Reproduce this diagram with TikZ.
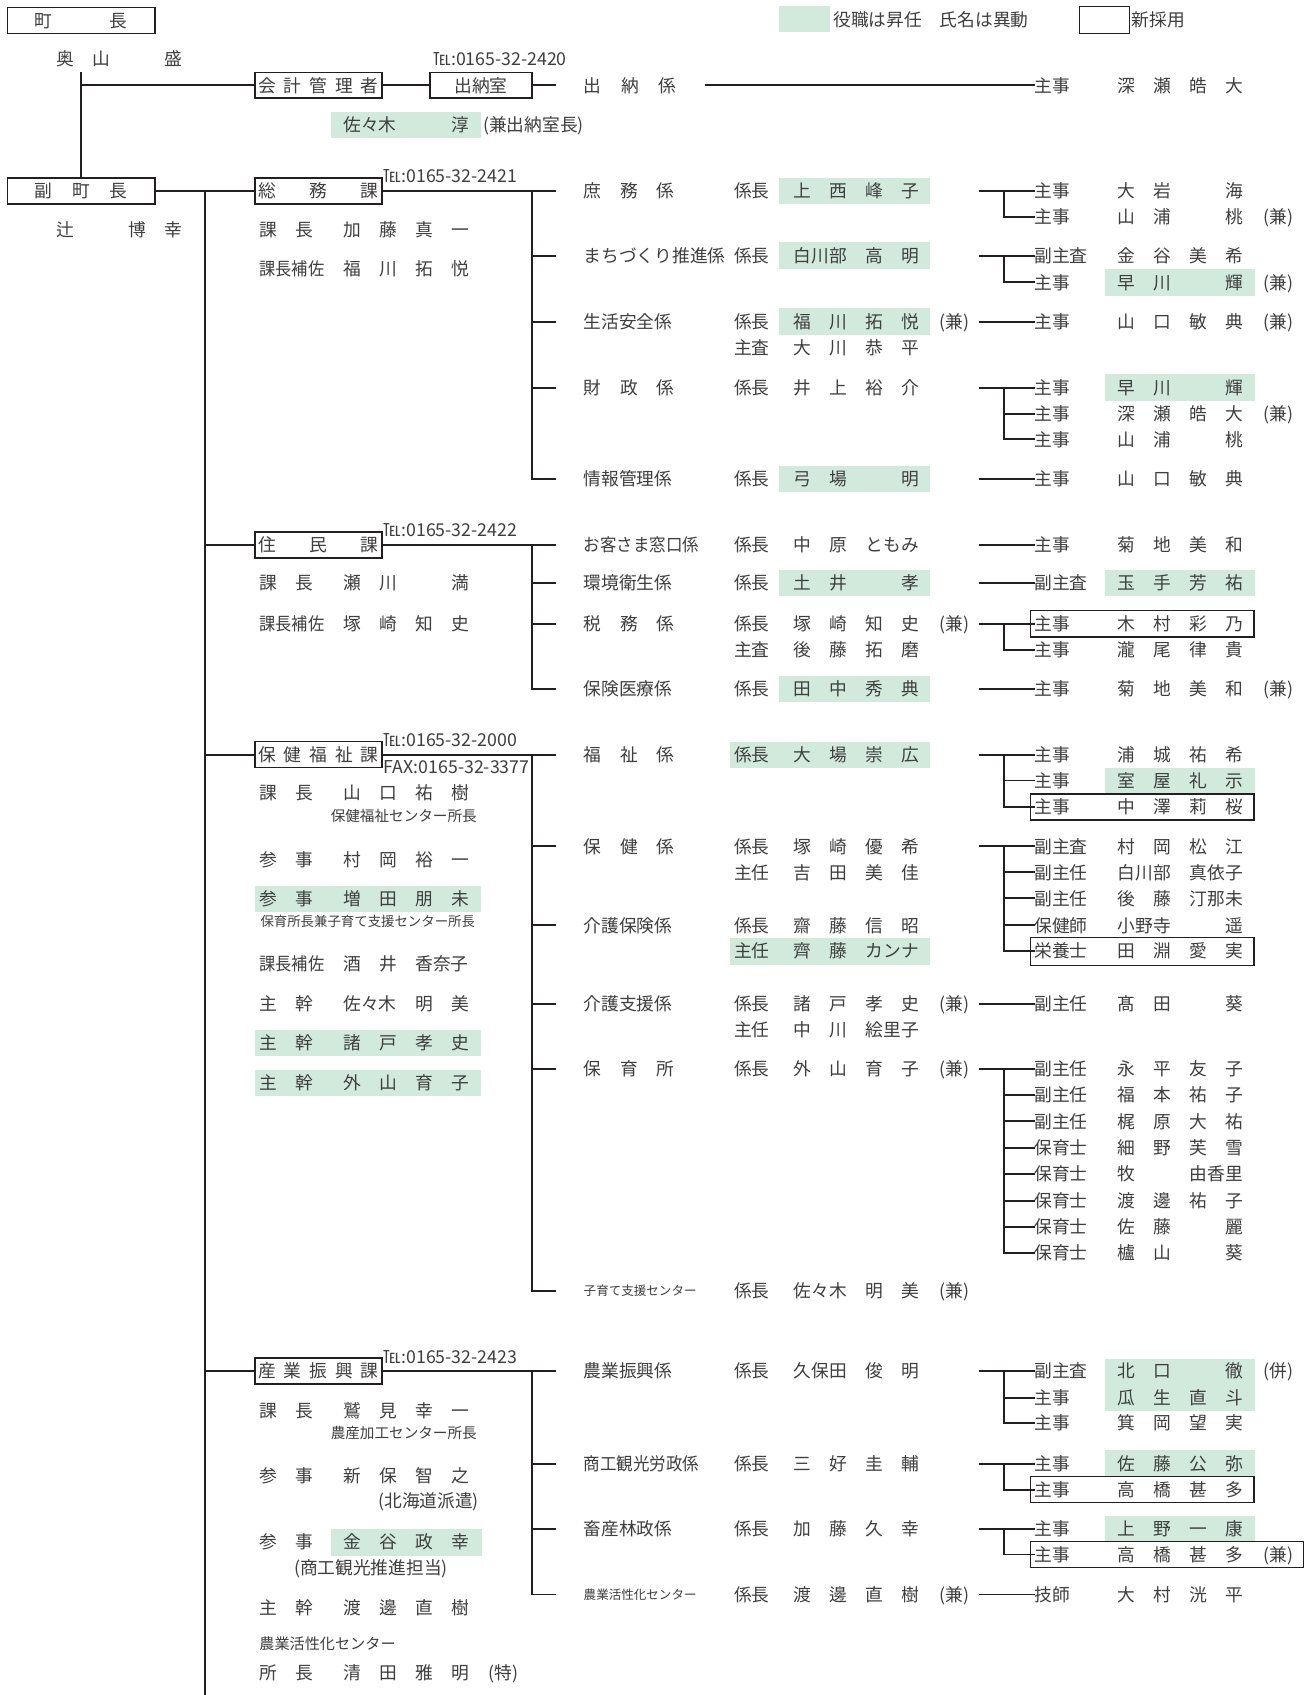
\documentclass[tikz,border=0pt]{standalone}
\usepackage{fontspec}
\setmainfont{Noto Sans CJK JP}
\usepackage{graphicx}
\definecolor{gr}{RGB}{210,234,220}
\definecolor{ln}{RGB}{35,31,32}
\definecolor{tx}{RGB}{62,62,62}
\newcommand\fN{\fontsize{16.4}{19}\selectfont}
\newcommand\slA[1]{\makebox[33.3pt]{#1}}
\newcommand\slB[1]{\makebox[66.6pt]{#1}}
\newcommand\slE{\makebox[33.3pt]{}}
\newcommand\nd[4][]{\node[txt,#1] (#2) at (#3) {#4};}
\newcommand\gb[4]{\fill[gr] (#1,#2) rectangle (#3,#4);}
\newcommand\nb[4]{\draw[nbox] (#1,#2) rectangle (#3,#4);}
\tikzset{
 every node/.style={inner sep=0pt,outer sep=0pt,text=tx,font=\fN},
 txt/.style={anchor=west,text height=14.4pt,text depth=2pt},
 sA/.style={font=\fontsize{11.6}{14}\selectfont,text height=10.2pt,text depth=1.4pt},
 sB/.style={font=\fontsize{12.4}{15}\selectfont,text height=10.9pt,text depth=1.5pt},
 sC/.style={font=\fontsize{13.5}{16}\selectfont,text height=11.9pt,text depth=1.6pt},
 sD/.style={font=\fontsize{14}{16}\selectfont,text height=12.3pt,text depth=1.7pt},
 conn/.style={draw=ln,line width=1.8pt},
 bx/.style={draw=ln,line width=1.7pt,minimum height=24pt,text height=14.4pt,text depth=2pt},
 dv/.style={bx,anchor=west,minimum width=117pt},
 nbox/.style={draw=ln,line width=1.1pt},
}
\begin{document}
\begin{tikzpicture}[x=1pt,y=-1pt]
\useasboundingbox (0,0) rectangle (1216,1568);
\fill[white] (0,0) rectangle (1216,1568);

% legend
\gb{721}{6}{768}{30}
\nd{lgA}{771,18}{役職は昇任　氏名は異動}
\draw[ln,line width=1pt] (999,6) rectangle (1045,31);
\nd{lgB}{1047,18}{新採用}

% top
\node[bx,minimum width=136pt] (cho) at (75,19) {\hbox to 86pt{町\hfill 長}};
\nd{choN}{43.6,54}{\slA{奥}\slA{山}\slE\slA{盛}}
\node[dv] (kaikei) at (236,79) {\hbox to 111pt{会\hfill 計\hfill 管\hfill 理\hfill 者}};
\node[bx,anchor=west,minimum width=94pt] (suito) at (398,79) {出納室};
\nd{telA}{401,54.5}{℡:0165-32-2420}
\coordinate (suitoE) at (514,79);
\nd{suitoK}{540,79}{\hbox to 86pt{出\hfill 納\hfill 係}}
\coordinate (suitoL) at (652,79);
\nd{suitoT}{957,79}{主事}
\nd{suitoN}{1025.5,79}{\slA{深}\slA{瀬}\slA{皓}\slA{大}}
\gb{306}{103.5}{445}{128}
\nd{kaikeiN}{309,115.5}{\slB{佐々木}\slE\slA{淳}}
\nd{kaikeiX}{447,115.5}{(兼出納室長)}
\node[bx,minimum width=136pt] (fuku) at (75,176.5) {\hbox to 86pt{副\hfill 町\hfill 長}};
\nd{fukuN}{43.6,212.5}{\slA{辻}\slE\slA{博}\slA{幸}}
\coordinate (v0) at (75,67);
\draw[conn] (v0) -- (fuku.north);
\draw[conn] (v0 |- kaikei.west) -- (kaikei.west);
\draw[conn] (kaikei.east) -- (suito.west);
\draw[conn] (suito.east) -- (suitoE);
\draw[conn] (suitoL) -- (suitoT.west);

% ===== 総務課
\node[dv] (somu) at (236,176.5) {\hbox to 111pt{総\hfill 務\hfill 課}};
\nd{somuTel}{355,162.5}{℡:0165-32-2421}
\coordinate (mv) at (190,176.5);
\coordinate (mvEnd) at (190,1568);
\draw[conn] (fuku.east) -- (somu.west);
\draw[conn] (mv) -- (mvEnd);
\coordinate (somuV) at (492,176.5);
\coordinate (somuE) at (514,176.5);
\coordinate (somuB2) at (514,236.5);
\coordinate (somuB3) at (514,297.5);
\coordinate (somuB4) at (514,358.5);
\coordinate (somuB5) at (514,443);
\draw[conn] (somu.east) -- (somuE);
\draw[conn] (somuV) |- (somuB5);
\foreach \b in {somuB2,somuB3,somuB4} \draw[conn] (\b -| somuV) -- (\b);
\nd{somuP1}{231.4,212.5}{\slA{課}\slA{長}}
\nd{somuQ1}{309,212.5}{\slA{加}\slA{藤}\slA{真}\slA{一}}
\nd{somuP2}{240,248.5}{\scalebox{0.915}[1]{課長補佐}}
\nd{somuQ2}{309,248.5}{\slA{福}\slA{川}\slA{拓}\slA{悦}}

% 庶務係
\nd{ka}{540,176.5}{\hbox to 84pt{庶\hfill 務\hfill 係}}
\nd{kac}{679,176.5}{係長}
\gb{721}{164.3}{860.5}{188.5}
\nd{kan}{725.5,176.5}{\slA{上}\slA{西}\slA{峰}\slA{子}}
\coordinate (kah) at (906,176.5); \coordinate (kav) at (929,176.5);
\nd{kat1}{957,176.5}{主事}\nd{kam1}{1025.5,176.5}{\slA{大}\slA{岩}\slE\slA{海}}
\nd{kat2}{957,200.5}{主事}\nd{kam2}{1025.5,200.5}{\slA{山}\slA{浦}\slE\slA{桃}}\nd{kax2}{1169,200.5}{(兼)}
\draw[conn] (kah) -- (kat1.west);
\draw[conn] (kav) |- (kat2.west);

% まちづくり推進係
\nd{kb}{540,236.5}{まちづくり推進係}
\nd{kbc}{679,236.5}{係長}
\gb{721}{224.3}{860.5}{248.5}
\nd{kbn}{725.5,236.5}{\slB{白川部}\slA{高}\slA{明}}
\coordinate (kbh) at (906,236.5); \coordinate (kbv) at (929,236.5);
\nd{kbt1}{957,236.5}{副主査}\nd{kbm1}{1025.5,236.5}{\slA{金}\slA{谷}\slA{美}\slA{希}}
\gb{1022}{249}{1161}{273.4}
\nd{kbt2}{957,261.2}{主事}\nd{kbm2}{1025.5,261.2}{\slA{早}\slA{川}\slE\slA{輝}}\nd{kbx2}{1169,261.2}{(兼)}
\draw[conn] (kbh) -- (kbt1.west);
\draw[conn] (kbv) |- (kbt2.west);

% 生活安全係
\nd{kc}{540,297.5}{生活安全係}
\nd{kcc}{679,297.5}{係長}
\gb{721}{285.3}{860.5}{309.5}
\nd{kcn}{725.5,297.5}{\slA{福}\slA{川}\slA{拓}\slA{悦}}
\nd{kcx}{869,297.5}{(兼)}
\nd{kcc2}{679,322}{主査}
\nd{kcn2}{725.5,322}{\slA{大}\slA{川}\slA{恭}\slA{平}}
\coordinate (kch) at (906,297.5);
\nd{kct1}{957,297.5}{主事}\nd{kcm1}{1025.5,297.5}{\slA{山}\slA{口}\slA{敏}\slA{典}}\nd{kcx1}{1169,297.5}{(兼)}
\draw[conn] (kch) -- (kct1.west);

% 財政係
\nd{kd}{540,358.5}{\hbox to 84pt{財\hfill 政\hfill 係}}
\nd{kdc}{679,358.5}{係長}
\nd{kdn}{725.5,358.5}{\slA{井}\slA{上}\slA{裕}\slA{介}}
\coordinate (kdh) at (906,358.5); \coordinate (kdv) at (929,358.5);
\gb{1022}{346.3}{1161}{370.5}
\nd{kdt1}{957,358.5}{主事}\nd{kdm1}{1025.5,358.5}{\slA{早}\slA{川}\slE\slA{輝}}
\nd{kdt2}{957,382.7}{主事}\nd{kdm2}{1025.5,382.7}{\slA{深}\slA{瀬}\slA{皓}\slA{大}}\nd{kdx2}{1169,382.7}{(兼)}
\nd{kdt3}{957,406.5}{主事}\nd{kdm3}{1025.5,406.5}{\slA{山}\slA{浦}\slE\slA{桃}}
\draw[conn] (kdh) -- (kdt1.west);
\draw[conn] (kdv) |- (kdt3.west);
\draw[conn] (kdt2.west -| kdv) -- (kdt2.west);

% 情報管理係
\nd{ke}{540,443}{情報管理係}
\nd{kec}{679,443}{係長}
\gb{721}{430.8}{860.5}{455}
\nd{ken}{725.5,443}{\slA{弓}\slA{場}\slE\slA{明}}
\coordinate (keh) at (906,443);
\nd{ket1}{957,443}{主事}\nd{kem1}{1025.5,443}{\slA{山}\slA{口}\slA{敏}\slA{典}}
\draw[conn] (keh) -- (ket1.west);

% ===== 住民課
\node[dv] (jumin) at (236,504) {\hbox to 111pt{住\hfill 民\hfill 課}};
\nd{juminTel}{355,490}{℡:0165-32-2422}
\draw[conn] (mv |- jumin.west) -- (jumin.west);
\coordinate (juminV) at (492,504);
\coordinate (juminE) at (514,504);
\coordinate (juminB2) at (514,539.5);
\coordinate (juminB3) at (514,577);
\coordinate (juminB4) at (514,637.5);
\draw[conn] (jumin.east) -- (juminE);
\draw[conn] (juminV) |- (juminB4);
\foreach \b in {juminB2,juminB3} \draw[conn] (\b -| juminV) -- (\b);
\nd{juminP1}{231.4,539.5}{\slA{課}\slA{長}}
\nd{juminQ1}{309,539.5}{\slA{瀬}\slA{川}\slE\slA{満}}
\nd{juminP2}{240,577}{\scalebox{0.915}[1]{課長補佐}}
\nd{juminQ2}{309,577}{\slA{塚}\slA{崎}\slA{知}\slA{史}}

% お客さま窓口係
\nd{ja}{540,504}{\scalebox{0.93}[1]{お客さま窓口係}}
\nd{jac}{679,504}{係長}
\nd{jan}{725.5,504}{\slA{中}\slA{原}\slB{ともみ}}
\coordinate (jah) at (906,504);
\nd{jat1}{957,504}{主事}\nd{jam1}{1025.5,504}{\slA{菊}\slA{地}\slA{美}\slA{和}}
\draw[conn] (jah) -- (jat1.west);

% 環境衛生係
\nd{jb}{540,539.5}{環境衛生係}
\nd{jbc}{679,539.5}{係長}
\gb{721}{527.3}{860.5}{551.5}
\nd{jbn}{725.5,539.5}{\slA{土}\slA{井}\slE\slA{孝}}
\coordinate (jbh) at (906,539.5);
\gb{1022}{527.3}{1161}{551.5}
\nd{jbt1}{957,539.5}{副主査}\nd{jbm1}{1025.5,539.5}{\slA{玉}\slA{手}\slA{芳}\slA{祐}}
\draw[conn] (jbh) -- (jbt1.west);

% 税務係
\nd{jc}{540,577}{\hbox to 84pt{税\hfill 務\hfill 係}}
\nd{jcc}{679,577}{係長}
\nd{jcn}{725.5,577}{\slA{塚}\slA{崎}\slA{知}\slA{史}}
\nd{jcx}{869,577}{(兼)}
\nd{jcc2}{679,601}{主査}
\nd{jcn2}{725.5,601}{\slA{後}\slA{藤}\slA{拓}\slA{磨}}
\coordinate (jch) at (906,577); \coordinate (jcv) at (929,577);
\nb{953}{564.7}{1160}{589.3}
\nd{jct1}{957,577}{主事}\nd{jcm1}{1025.5,577}{\slA{木}\slA{村}\slA{彩}\slA{乃}}
\nd{jct2}{957,601}{主事}\nd{jcm2}{1025.5,601}{\slA{瀧}\slA{尾}\slA{律}\slA{貴}}
\draw[conn] (jch) -- (jct1.west);
\draw[conn] (jcv) |- (jct2.west);

% 保険医療係
\nd{jd}{540,637.5}{保険医療係}
\nd{jdc}{679,637.5}{係長}
\gb{721}{625.3}{860.5}{649.5}
\nd{jdn}{725.5,637.5}{\slA{田}\slA{中}\slA{秀}\slA{典}}
\coordinate (jdh) at (906,637.5);
\nd{jdt1}{957,637.5}{主事}\nd{jdm1}{1025.5,637.5}{\slA{菊}\slA{地}\slA{美}\slA{和}}\nd{jdx1}{1169,637.5}{(兼)}
\draw[conn] (jdh) -- (jdt1.west);

% ===== 保健福祉課
\node[dv] (hoken) at (236,698) {\hbox to 111pt{保\hfill 健\hfill 福\hfill 祉\hfill 課}};
\nd{hokenTel}{355,684.3}{℡:0165-32-2000}
\nd{hokenFax}{355,709.5}{FAX:0165-32-3377}
\draw[conn] (mv |- hoken.west) -- (hoken.west);
\coordinate (hokenV) at (492,698);
\coordinate (hokenE) at (514,698);
\coordinate (hokenB2) at (514,783);
\coordinate (hokenB3) at (514,856);
\coordinate (hokenB4) at (514,928.6);
\coordinate (hokenB5) at (514,988.7);
\coordinate (hokenB6) at (514,1194);
\draw[conn] (hoken.east) -- (hokenE);
\draw[conn] (hokenV) |- (hokenB6);
\foreach \b in {hokenB2,hokenB3,hokenB4,hokenB5} \draw[conn] (\b -| hokenV) -- (\b);
\nd{hokenP1}{231.4,733.6}{\slA{課}\slA{長}}
\nd{hokenQ1}{309,733.6}{\slA{山}\slA{口}\slA{祐}\slA{樹}}
\nd[sC]{hokenR1}{306,755}{保健福祉センター所長}
\nd{hokenP2}{231.4,795}{\slA{参}\slA{事}}
\nd{hokenQ2}{309,795}{\slA{村}\slA{岡}\slA{裕}\slA{一}}
\gb{236}{819.3}{445}{844}
\nd{hokenP3}{231.4,831.5}{\slA{参}\slA{事}}
\nd{hokenQ3}{309,831.5}{\slA{増}\slA{田}\slA{朋}\slA{未}}
\nd[sB]{hokenR3}{241,852}{保育所長兼子育て支援センター所長}
\nd{hokenP4}{240,891.4}{\scalebox{0.915}[1]{課長補佐}}
\nd{hokenQ4}{309,891.4}{\slA{酒}\slA{井}\slB{香奈子}}
\nd{hokenP5}{231.4,928.6}{\slA{主}\slA{幹}}
\nd{hokenQ5}{309,928.6}{\slB{佐々木}\slA{明}\slA{美}}
\gb{236}{953}{445}{977}
\nd{hokenP6}{231.4,965}{\slA{主}\slA{幹}}
\nd{hokenQ6}{309,965}{\slA{諸}\slA{戸}\slA{孝}\slA{史}}
\gb{236}{989.5}{445}{1014}
\nd{hokenP7}{231.4,1001.5}{\slA{主}\slA{幹}}
\nd{hokenQ7}{309,1001.5}{\slA{外}\slA{山}\slA{育}\slA{子}}

% 福祉係
\nd{ha}{540,698}{\hbox to 84pt{福\hfill 祉\hfill 係}}
\gb{675}{686.6}{860.5}{710.4}
\nd{hac}{679,698}{係長}
\nd{han}{725.5,698}{\slA{大}\slA{場}\slA{崇}\slA{広}}
\coordinate (hah) at (906,698); \coordinate (hav) at (929,698);
\nd{hat1}{957,698}{主事}\nd{ham1}{1025.5,698}{\slA{浦}\slA{城}\slA{祐}\slA{希}}
\gb{1022}{710.4}{1161}{733.9}
\nd{hat2}{957,722}{主事}\nd{ham2}{1025.5,722}{\slA{室}\slA{屋}\slA{礼}\slA{示}}
\nb{953}{734.5}{1160}{758.6}
\nd{hat3}{957,746.5}{主事}\nd{ham3}{1025.5,746.5}{\slA{中}\slA{澤}\slA{莉}\slA{桜}}
\draw[conn] (hah) -- (hat1.west);
\draw[conn] (hav) |- (hat3.west);
\draw[conn] (hat2.west -| hav) -- (hat2.west);

% 保健係
\nd{hb}{540,783}{\hbox to 84pt{保\hfill 健\hfill 係}}
\nd{hbc}{679,783}{係長}
\nd{hbn}{725.5,783}{\slA{塚}\slA{崎}\slA{優}\slA{希}}
\nd{hbc2}{679,807}{主任}
\nd{hbn2}{725.5,807}{\slA{吉}\slA{田}\slA{美}\slA{佳}}
\coordinate (hbh) at (906,783); \coordinate (hbv) at (929,783);
\nd{hbt1}{957,783}{副主査}\nd{hbm1}{1025.5,783}{\slA{村}\slA{岡}\slA{松}\slA{江}}
\nd{hbt2}{957,807}{副主任}\nd{hbm2}{1025.5,807}{\slB{白川部}\slB{真依子}}
\nd{hbt3}{957,831}{副主任}\nd{hbm3}{1025.5,831}{\slA{後}\slA{藤}\slB{汀那未}}
\nd{hbt4}{957,856}{保健師}\nd{hbm4}{1025.5,856}{\slB{小野寺}\slE\slA{遥}}
\nb{953}{867.6}{1160}{893}
\nd{hbt5}{957,880}{栄養士}\nd{hbm5}{1025.5,880}{\slA{田}\slA{淵}\slA{愛}\slA{実}}
\draw[conn] (hbh) -- (hbt1.west);
\draw[conn] (hbv) |- (hbt5.west);
\foreach \n in {hbt2,hbt3,hbt4} \draw[conn] (\n.west -| hbv) -- (\n.west);

% 介護保険係
\nd{hc}{540,856}{介護保険係}
\nd{hcc}{679,856}{係長}
\nd{hcn}{725.5,856}{\slA{齋}\slA{藤}\slA{信}\slA{昭}}
\gb{675}{867.6}{860.5}{893}
\nd{hcc2}{679,880}{主任}
\nd{hcn2}{725.5,880}{\slA{齊}\slA{藤}\slB{カンナ}}

% 介護支援係
\nd{hd}{540,928.6}{介護支援係}
\nd{hdc}{679,928.6}{係長}
\nd{hdn}{725.5,928.6}{\slA{諸}\slA{戸}\slA{孝}\slA{史}}
\nd{hdx}{869,928.6}{(兼)}
\nd{hdc2}{679,952.4}{主任}
\nd{hdn2}{725.5,952.4}{\slA{中}\slA{川}\slB{絵里子}}
\coordinate (hdh) at (906,928.6);
\nd{hdt1}{957,928.6}{副主任}\nd{hdm1}{1025.5,928.6}{\slA{髙}\slA{田}\slE\slA{葵}}
\draw[conn] (hdh) -- (hdt1.west);

% 保育所
\nd{he}{540,988.7}{\hbox to 84pt{保\hfill 育\hfill 所}}
\nd{hec}{679,988.7}{係長}
\nd{hen}{725.5,988.7}{\slA{外}\slA{山}\slA{育}\slA{子}}
\nd{hex}{869,988.7}{(兼)}
\coordinate (heh) at (906,988.7); \coordinate (hev) at (929,988.7);
\nd{het1}{957,988.7}{副主任}\nd{hem1}{1025.5,988.7}{\slA{永}\slA{平}\slA{友}\slA{子}}
\nd{het2}{957,1013.1}{副主任}\nd{hem2}{1025.5,1013.1}{\slA{福}\slA{本}\slA{祐}\slA{子}}
\nd{het3}{957,1037.4}{副主任}\nd{hem3}{1025.5,1037.4}{\slA{梶}\slA{原}\slA{大}\slA{祐}}
\nd{het4}{957,1061.8}{保育士}\nd{hem4}{1025.5,1061.8}{\slA{細}\slA{野}\slA{芙}\slA{雪}}
\nd{het5}{957,1086.2}{保育士}\nd{hem5}{1025.5,1086.2}{\slA{牧}\slE\slB{由香里}}
\nd{het6}{957,1110.6}{保育士}\nd{hem6}{1025.5,1110.6}{\slA{渡}\slA{邊}\slA{祐}\slA{子}}
\nd{het7}{957,1134.9}{保育士}\nd{hem7}{1025.5,1134.9}{\slA{佐}\slA{藤}\slE\slA{麗}}
\nd{het8}{957,1159.3}{保育士}\nd{hem8}{1025.5,1159.3}{\slA{櫨}\slA{山}\slE\slA{葵}}
\draw[conn] (heh) -- (het1.west);
\draw[conn] (hev) |- (het8.west);
\foreach \n in {het2,het3,het4,het5,het6,het7} \draw[conn] (\n.west -| hev) -- (\n.west);

% 子育て支援センター
\nd[sA]{hf}{540,1194}{子育て支援センター}
\nd{hfc}{679,1194}{係長}
\nd{hfn}{725.5,1194}{\slB{佐々木}\slA{明}\slA{美}}
\nd{hfx}{869,1194}{(兼)}

% ===== 産業振興課
\node[dv] (sangyo) at (236,1268.5) {\hbox to 111pt{産\hfill 業\hfill 振\hfill 興\hfill 課}};
\nd{sangyoTel}{355,1255}{℡:0165-32-2423}
\draw[conn] (mv |- sangyo.west) -- (sangyo.west);
\coordinate (sangyoV) at (492,1268.5);
\coordinate (sangyoE) at (514,1268.5);
\coordinate (sangyoB2) at (514,1354);
\coordinate (sangyoB3) at (514,1414);
\coordinate (sangyoB4) at (514,1475);
\draw[conn] (sangyo.east) -- (sangyoE);
\draw[conn] (sangyoV) |- (sangyoB4);
\foreach \b in {sangyoB2,sangyoB3} \draw[conn] (\b -| sangyoV) -- (\b);
\nd{sangyoP1}{231.4,1304.8}{\slA{課}\slA{長}}
\nd{sangyoQ1}{309,1304.8}{\slA{鷲}\slA{見}\slA{幸}\slA{一}}
\nd[sC]{sangyoR1}{306,1326}{農産加工センター所長}
\nd{sangyoP2}{231.4,1365.5}{\slA{参}\slA{事}}
\nd{sangyoQ2}{309,1365.5}{\slA{新}\slA{保}\slA{智}\slA{之}}
\nd{sangyoR2}{350,1388.6}{(北海道派遣)}
\gb{306}{1414}{446}{1439}
\nd{sangyoP3}{231.4,1426.5}{\slA{参}\slA{事}}
\nd{sangyoQ3}{309,1426.5}{\slA{金}\slA{谷}\slA{政}\slA{幸}}
\nd{sangyoR3}{272,1450}{(商工観光推進担当)}
\nd{sangyoP4}{231.4,1487}{\slA{主}\slA{幹}}
\nd{sangyoQ4}{309,1487}{\slA{渡}\slA{邊}\slA{直}\slA{樹}}
\nd[sD]{sangyoR4}{240,1521}{農業活性化センター}
\nd{sangyoP5}{231.4,1547.4}{\slA{所}\slA{長}}
\nd{sangyoQ5}{309,1547.4}{\slA{清}\slA{田}\slA{雅}\slA{明}}
\nd{sangyoX5}{452,1547.4}{(特)}

% 農業振興係
\nd{sa}{540,1268.5}{農業振興係}
\nd{sac}{679,1268.5}{係長}
\nd{san}{725.5,1268.5}{\slB{久保田}\slA{俊}\slA{明}}
\coordinate (sah) at (906,1268.5); \coordinate (sav) at (929,1268.5);
\gb{1022}{1257}{1161}{1305.4}
\nd{sat1}{957,1268.5}{副主査}\nd{sam1}{1025.5,1268.5}{\slA{北}\slA{口}\slE\slA{徹}}\nd{sax1}{1169,1268.5}{(併)}
\nd{sat2}{957,1293}{主事}\nd{sam2}{1025.5,1293}{\slA{瓜}\slA{生}\slA{直}\slA{斗}}
\nd{sat3}{957,1316.5}{主事}\nd{sam3}{1025.5,1316.5}{\slA{箕}\slA{岡}\slA{望}\slA{実}}
\draw[conn] (sah) -- (sat1.west);
\draw[conn] (sav) |- (sat3.west);
\draw[conn] (sat2.west -| sav) -- (sat2.west);

% 商工観光労政係
\nd{sb}{540,1354}{\scalebox{0.93}[1]{商工観光労政係}}
\nd{sbc}{679,1354}{係長}
\nd{sbn}{725.5,1354}{\slA{三}\slA{好}\slA{圭}\slA{輔}}
\coordinate (sbh) at (906,1354); \coordinate (sbv) at (929,1354);
\gb{1022}{1341.8}{1161}{1366}
\nd{sbt1}{957,1354}{主事}\nd{sbm1}{1025.5,1354}{\slA{佐}\slA{藤}\slA{公}\slA{弥}}
\nb{953}{1366}{1160}{1390}
\nd{sbt2}{957,1378}{主事}\nd{sbm2}{1025.5,1378}{\slA{高}\slA{橋}\slA{甚}\slA{多}}
\draw[conn] (sbh) -- (sbt1.west);
\draw[conn] (sbv) |- (sbt2.west);

% 畜産林政係
\nd{sc}{540,1414}{畜産林政係}
\nd{scc}{679,1414}{係長}
\nd{scn}{725.5,1414}{\slA{加}\slA{藤}\slA{久}\slA{幸}}
\coordinate (sch) at (906,1414); \coordinate (scv) at (929,1414);
\gb{1022}{1402}{1161}{1426}
\nd{sct1}{957,1414}{主事}\nd{scm1}{1025.5,1414}{\slA{上}\slA{野}\slA{一}\slA{康}}
\nb{953}{1426}{1206}{1450}
\nd{sct2}{957,1438}{主事}\nd{scm2}{1025.5,1438}{\slA{高}\slA{橋}\slA{甚}\slA{多}}\nd{scx2}{1169,1438}{(兼)}
\draw[conn] (sch) -- (sct1.west);
\draw[conn] (scv) |- (sct2.west);

% 農業活性化センター
\nd[sA]{sd}{540,1475}{農業活性化センター}
\nd{sdc}{679,1475}{係長}
\nd{sdn}{725.5,1475}{\slA{渡}\slA{邊}\slA{直}\slA{樹}}
\nd{sdx}{869,1475}{(兼)}
\coordinate (sdh) at (906,1475);
\nd{sdt1}{957,1475}{技師}\nd{sdm1}{1025.5,1475}{\slA{大}\slA{村}\slA{洸}\slA{平}}
\draw[conn] (sdh) -- (sdt1.west);
\end{tikzpicture}
\end{document}
